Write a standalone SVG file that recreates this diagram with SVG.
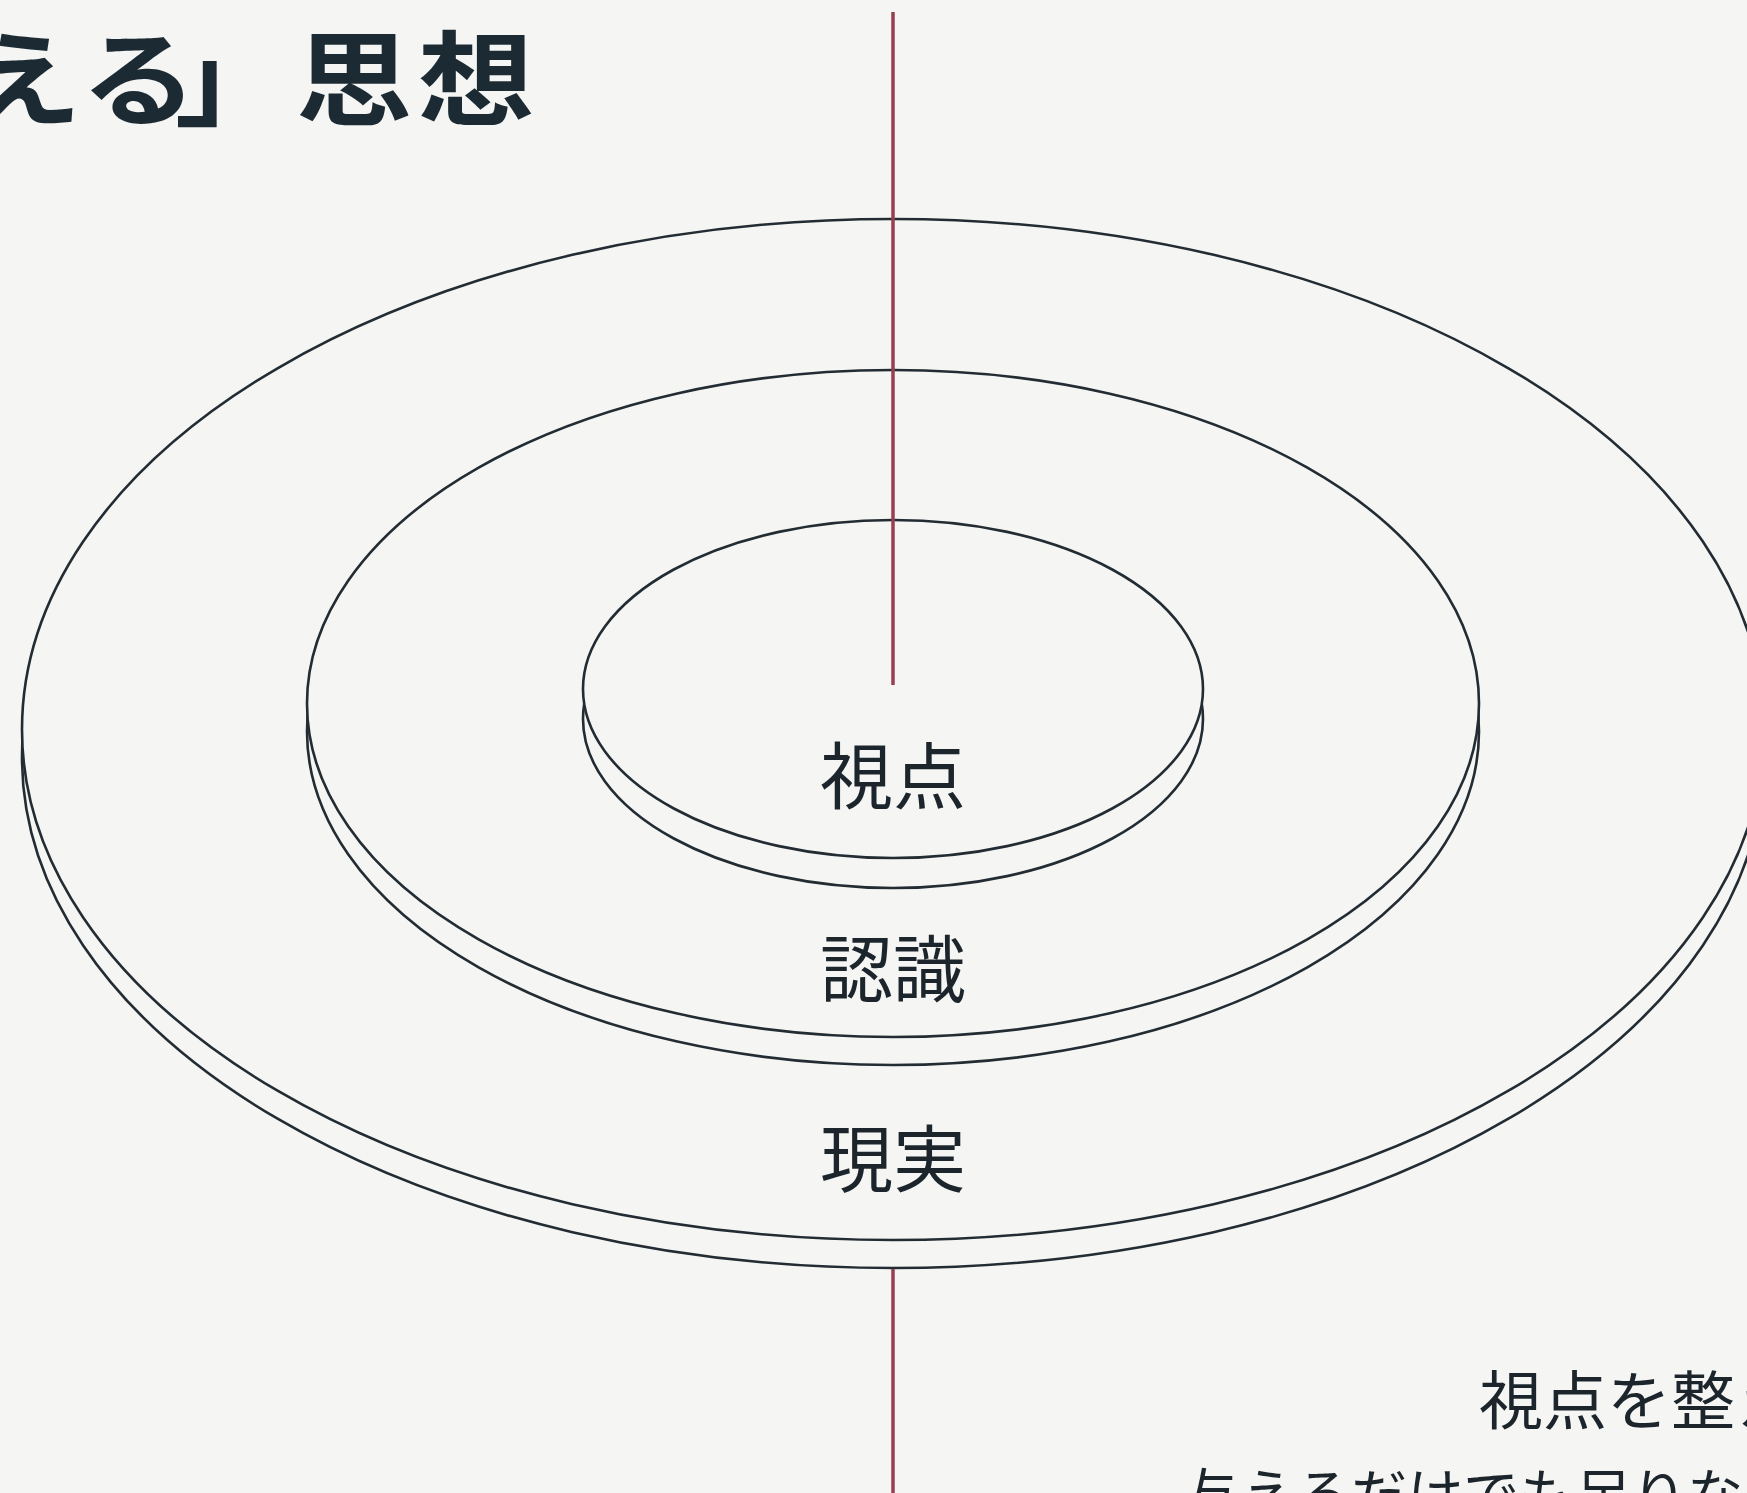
<svg xmlns="http://www.w3.org/2000/svg" width="1747" height="1493" viewBox="0 0 1747 1493">
  <style>
    .disc { fill: #f5f5f4; stroke: #222c32; stroke-width: 2.6; }
    .label { font-family: "Noto Sans CJK JP", "Noto Sans CJK SC", sans-serif; font-size: 73px; fill: #1b252b; text-anchor: middle; }
    .title { font-family: "Noto Sans CJK JP", "Noto Sans CJK SC", sans-serif; font-size: 104px; font-weight: 700; fill: #1b2a33; }
    .body { font-family: "Noto Sans CJK JP", "Noto Sans CJK SC", sans-serif; fill: #1b252b; }
    .axis { stroke: #963f50; stroke-width: 3.5; fill: none; }
  </style>
  <rect width="1747" height="1493" fill="#f5f5f4"/>

  <g id="title" transform="scale(1.12,1)">
    <text class="title" x="-31 72 156 264 373" y="118">える」思想</text>
  </g>

  <g id="disc-outer">
    <ellipse class="disc" cx="893" cy="757.5" rx="871" ry="510.5"/>
    <ellipse class="disc" cx="893" cy="729.5" rx="871" ry="510.5"/>
    <text class="label" x="893" y="1186">現実</text>
  </g>

  <g id="disc-middle">
    <ellipse class="disc" cx="893" cy="731.5" rx="586" ry="333.5"/>
    <ellipse class="disc" cx="893" cy="703.5" rx="586" ry="333.5"/>
    <text class="label" x="893" y="996">認識</text>
  </g>

  <g id="disc-inner">
    <ellipse class="disc" cx="893" cy="719" rx="310" ry="169"/>
    <ellipse class="disc" cx="893" cy="689" rx="310" ry="169"/>
    <text class="label" x="893" y="803">視点</text>
  </g>

  <g id="connectors">
    <line class="axis" x1="893" y1="12" x2="893" y2="685"/>
    <line class="axis" x1="893" y1="1269" x2="893" y2="1493"/>
  </g>

  <g id="caption">
    <text class="body" x="1479" y="1424" font-size="64">視点を整え</text>
    <text class="body" x="1185" y="1515" font-size="56">与えるだけでも足りな</text>
  </g>
</svg>
